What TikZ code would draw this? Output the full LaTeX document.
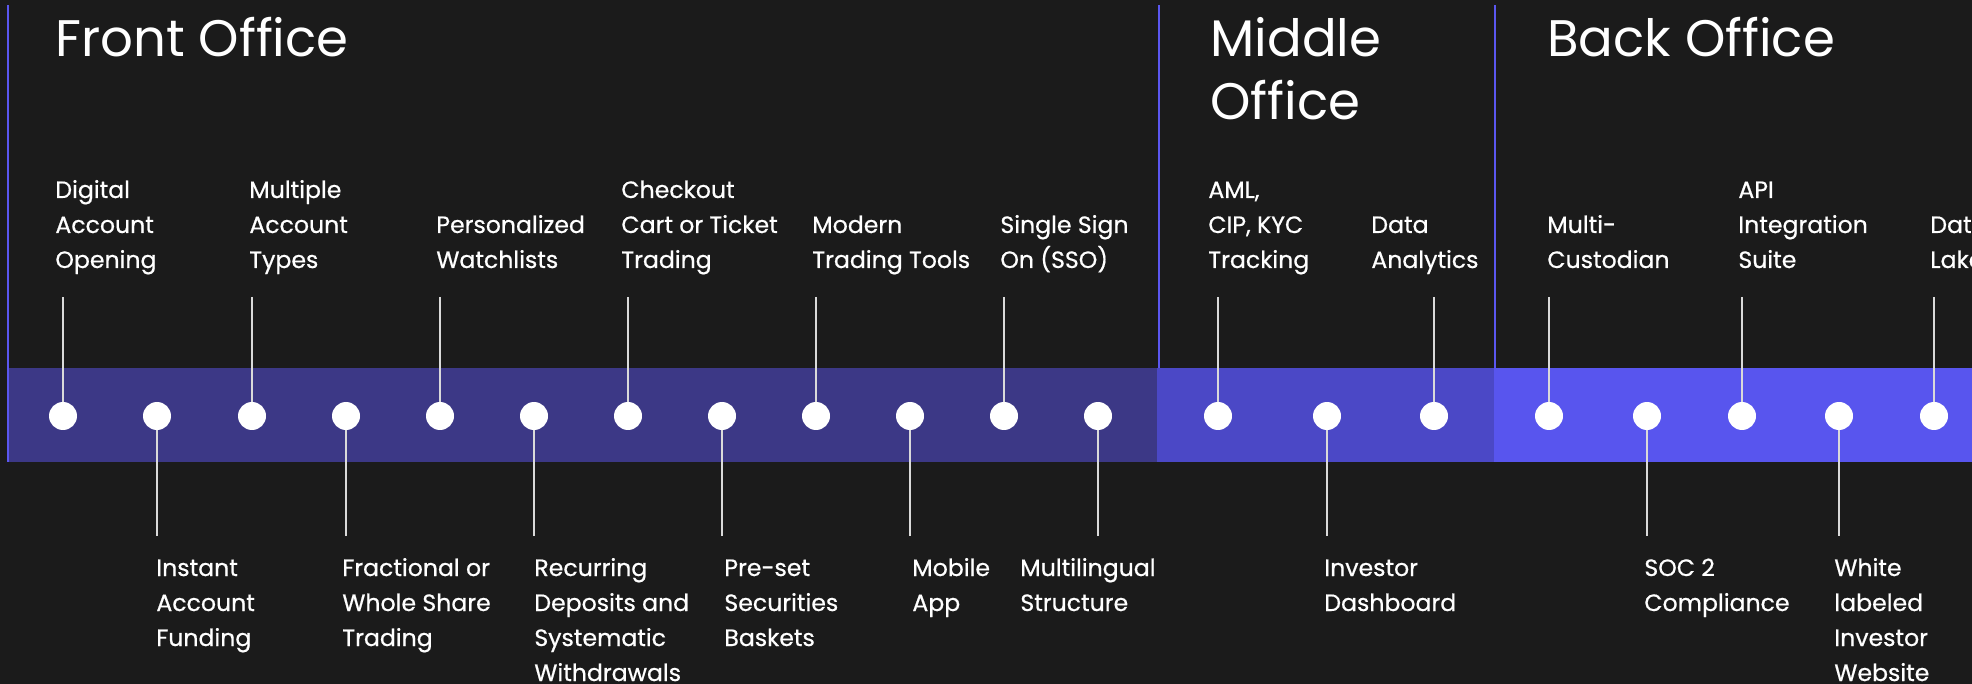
\documentclass[tikz,border=0pt]{standalone}
\usepackage{fontspec}
\setmainfont{Poppins}
\newfontfamily\featfont{Poppins}[FakeBold=0.6]
\definecolor{bgdark}{HTML}{1B1B1B}
\definecolor{frontband}{HTML}{3C3886}
\definecolor{middleband}{HTML}{4B48C6}
\definecolor{backband}{HTML}{5855EE}
\definecolor{divline}{HTML}{5B57F0}
\definecolor{stemgray}{HTML}{DADADA}

\begin{document}
\begin{tikzpicture}[x=0.5pt, y=-0.5pt,
                    title/.style={text=white, inner sep=0, anchor=base west, align=left, font=\fontsize{25.7}{31.5}\selectfont},
                    feature/.style={text=white, inner sep=0, anchor=base west, align=left, font=\featfont\fontsize{11.8}{17.5}\selectfont},
                    dot/.style={circle, fill=white, minimum size=14pt, inner sep=0},
                    stem/.style={stemgray, line width=0.6pt},
                    divider/.style={divline, line width=1pt},
                ]
                \clip (0,0) rectangle (1972,684);
                \fill[bgdark] (0,0) rectangle (1972,684);
                %Bands
                \fill[frontband]  (8,368)    rectangle (1157,462);
                \fill[middleband] (1157,368) rectangle (1494,462);
                \fill[backband]   (1494,368) rectangle (1972,462);
                \draw[divider] (8,5) -- (8,462);
                \draw[divider] (1159,5) -- (1159,368);
                \draw[divider] (1495,5) -- (1495,368);
                %Titles
                \node[title] (front)  at (55,57)    {Front Office};
                \node[title] (middle) at (1210,120) {Middle\\Office};
                \node[title] (back)   at (1547,57)  {Back Office};
                %Dots
                \node[dot] (f1)  at (63,416)   {};
                \node[dot] (f2)  at (157,416)  {};
                \node[dot] (f3)  at (252,416)  {};
                \node[dot] (f4)  at (346,416)  {};
                \node[dot] (f5)  at (440,416)  {};
                \node[dot] (f6)  at (534,416)  {};
                \node[dot] (f7)  at (628,416)  {};
                \node[dot] (f8)  at (722,416)  {};
                \node[dot] (f9)  at (816,416)  {};
                \node[dot] (f10) at (910,416)  {};
                \node[dot] (f11) at (1004,416) {};
                \node[dot] (f12) at (1098,416) {};
                \node[dot] (m1)  at (1218,416) {};
                \node[dot] (m2)  at (1327,416) {};
                \node[dot] (m3)  at (1434,416) {};
                \node[dot] (b1)  at (1549,416) {};
                \node[dot] (b2)  at (1647,416) {};
                \node[dot] (b3)  at (1742,416) {};
                \node[dot] (b4)  at (1839,416) {};
                \node[dot] (b5)  at (1934,416) {};
                %Stem ends
                \coordinate (f1e)  at (63,297);
                \coordinate (f2e)  at (157,536);
                \coordinate (f3e)  at (252,297);
                \coordinate (f4e)  at (346,536);
                \coordinate (f5e)  at (440,297);
                \coordinate (f6e)  at (534,536);
                \coordinate (f7e)  at (628,297);
                \coordinate (f8e)  at (722,536);
                \coordinate (f9e)  at (816,297);
                \coordinate (f10e) at (910,536);
                \coordinate (f11e) at (1004,297);
                \coordinate (f12e) at (1098,536);
                \coordinate (m1e)  at (1218,297);
                \coordinate (m2e)  at (1327,536);
                \coordinate (m3e)  at (1434,297);
                \coordinate (b1e)  at (1549,297);
                \coordinate (b2e)  at (1647,536);
                \coordinate (b3e)  at (1742,297);
                \coordinate (b4e)  at (1839,536);
                \coordinate (b5e)  at (1934,297);
                \foreach \d in {f1,f2,f3,f4,f5,f6,f7,f8,f9,f10,f11,f12,m1,m2,m3,b1,b2,b3,b4,b5}
                    \draw[stem] (\d e) -- (\d);
                %Labels above
                \node[feature] (l1)  at (55,268)   {Digital\\Account\\Opening};
                \node[feature] (l3)  at (249,268)  {Multiple\\Account\\Types};
                \node[feature] (l5)  at (436,268)  {Personalized\\Watchlists};
                \node[feature] (l7)  at (621,268)  {Checkout\\Cart or Ticket\\Trading};
                \node[feature] (l9)  at (812,268)  {Modern\\Trading Tools};
                \node[feature] (l11) at (1000,268) {Single Sign\\On (SSO)};
                \node[feature] (lm1) at (1208,268) {AML,\\CIP, KYC\\Tracking};
                \node[feature] (lm3) at (1371,268) {Data\\Analytics};
                \node[feature] (lb1) at (1547,268) {Multi-\\Custodian};
                \node[feature] (lb3) at (1738,268) {API\\Integration\\Suite};
                \node[feature] (lb5) at (1930,268) {Data\\Lake};
                %Labels below
                \node[feature] (l2)  at (156,646)  {Instant\\Account\\Funding};
                \node[feature] (l4)  at (342,646)  {Fractional or\\Whole Share\\Trading};
                \node[feature] (l6)  at (534,681)  {Recurring\\Deposits and\\Systematic\\Withdrawals};
                \node[feature] (l8)  at (724,646)  {Pre-set\\Securities\\Baskets};
                \node[feature] (l10) at (912,611)  {Mobile\\App};
                \node[feature] (l12) at (1020,611) {Multilingual\\Structure};
                \node[feature] (lm2) at (1324,611) {Investor\\Dashboard};
                \node[feature] (lb2) at (1644,611) {SOC 2\\Compliance};
                \node[feature] (lb4) at (1834,681) {White\\labeled\\Investor\\Website};
            \end{tikzpicture}
\end{document}
